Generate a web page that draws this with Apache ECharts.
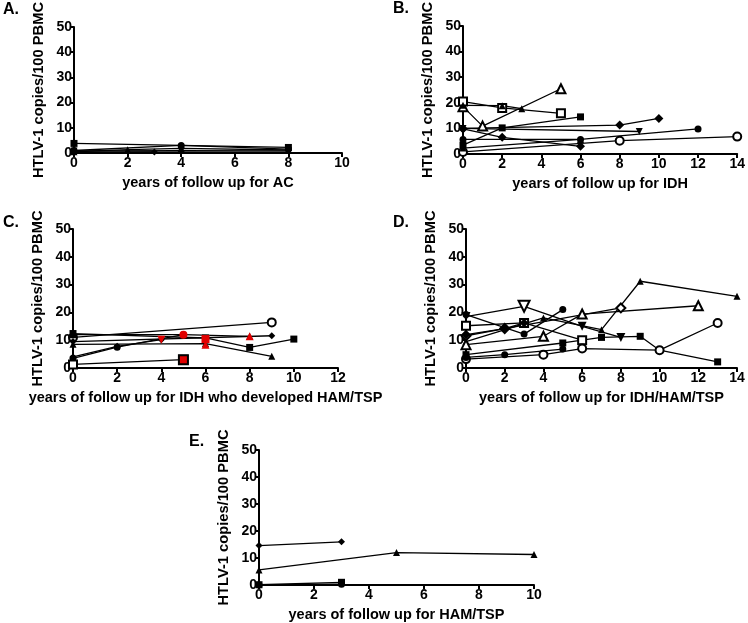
<!DOCTYPE html>
<html><head><meta charset="utf-8">
<script src="https://cdn.jsdelivr.net/npm/echarts@6/dist/echarts.min.js"></script>
<style>html,body{margin:0;padding:0;background:#fff}#c{width:748px;height:623px}</style>
</head><body><div id="c"></div>
<script>
// ---------- data ----------
const yTicks = [0, 10, 20, 30, 40, 50];
const panelLabels = ['A.', 'B.', 'C.', 'D.', 'E.'];
const yTitle = 'HTLV-1 copies/100 PBMC';
const xTitles = ['years of follow up for AC', 'years of follow up for IDH',
  'years of follow up for IDH who developed HAM/TSP', 'years of follow up for IDH/HAM/TSP',
  'years of follow up for HAM/TSP'];
const xMax = [10, 14, 12, 14, 10];

// Panel A (AC)
const A_square = [[0, 3.8], [8, 2.2]];
const A_circle = [[0, 1.0], [4, 3.0], [8, 1.5]];
const A_triangle = [[0, 0.5], [2, 1.3], [4, 1.8], [8, 1.2]];
const A_diamond = [[0, 0.2], [3, 0.4]];
const A_invTri = [[0, 0.8], [4, 0.9], [8, 0.8]];

// Panel B (IDH)
const B_openTri = [[0, 18.5], [1, 10.9], [5, 25.5]];
const B_openSq = [[0, 20.5], [2, 18], [5, 15.9]];
const B_tri = [[0, 19], [2, 18.9], [3, 17.7]];
const B_sq = [[0, 3.5], [2, 10.2], [6, 14.5]];
const B_invTri = [[0, 10], [9, 8.8]];
const B_diamond = [[0, 9.8], [2, 6.5], [6, 3]];
const B_circle = [[0, 5.7], [6, 5.7], [12, 9.8]];
const B_diamond2 = [[0, 10], [8, 11.3], [10, 13.9]];
const B_openCircle = [[0, 0.8], [8, 5.2], [14, 6.8]];
const B_tri2 = [[0, 2.3], [6, 5.7]];

// Panel C (IDH -> HAM/TSP)
const C_openCircle = [[0, 11], [9, 16.4]];
const C_diamond = [[0, 9.5], [9, 11.6]];
const C_tri = [[0, 12], [5, 12], [8, 11.4]];
const C_sq = [[0, 12.4], [6, 10.8], [8, 7.4], [10, 10.4]];
const C_tri2 = [[0, 8.5], [6, 8.8], [9, 4.2]];
const C_diamond2 = [[0, 4], [2, 7.8], [4, 10.2]];
const C_circle = [[0, 3.5], [2, 7.5], [5, 12]];
const C_openSq = [[0, 1.3], [5, 3]];
const C_redCircle = [[5, 12]];
const C_redInvTri = [[4, 10.2]];
const C_redSq = [[6, 10.4]];
const C_redSqOutlined = [[5, 3]];
const C_redTri = [[6, 8.4], [8, 11.4]];

// Panel D (IDH/HAM/TSP)
const D_tri = [[0, 9.5], [4, 18], [7, 13.8], [9, 31.2], [14, 25.8]];
const D_invTri = [[0, 18.5], [3, 22.2], [6, 15], [8, 11]];
const D_openInvTriPts = [[3, 22.2]];
const D_circle = [[0, 19.2], [3, 12.2], [5, 21]];
const D_openDiamond = [[0, 11.6], [2, 14.2], [8, 21.6]];
const D_openTri = [[0, 8.4], [4, 11.4], [6, 19.4], [12, 22.4]];
const D_openSq = [[0, 15.2], [3, 16.2], [6, 10]];
const D_sq = [[0, 4.8], [5, 9], [7, 11], [9, 11.4], [10, 6.4], [13, 2.2]];
const D_openCircle = [[0, 3.2], [4, 4.8], [6, 7], [10, 6.4], [13, 16.2]];
const D_circle2 = [[0, 3.8], [2, 4.8], [5, 6.8]];
const D_diamond = [[0, 12], [2, 14.2], [3, 16.2]];

// Panel E (HAM/TSP)
const E_diamond = [[0, 14.6], [3, 16]];
const E_tri = [[0, 5.6], [5, 12], [10, 11.3]];
const E_sq = [[0, 0.1], [3, 1]];
const E_circle = [[0, 0], [3, 0.3]];

// ---------- chart ----------
const FONT = '"Liberation Sans", Arial, sans-serif';
const grids = [
  {left: 74, top: 14, width: 268, height: 139},
  {left: 463, top: 14, width: 275, height: 140},
  {left: 73, top: 229, width: 265, height: 139},
  {left: 466, top: 229, width: 271, height: 139},
  {left: 259, top: 450, width: 275, height: 139}
];
const labelPos = [[3, 2], [393, 1], [3, 215], [393, 215], [189, 434]];

const xAxes = grids.map((g, i) => ({
  gridIndex: i, type: 'value', min: 0, max: xMax[i], interval: 2,
  name: xTitles[i], nameLocation: 'middle', nameGap: 22,
  nameTextStyle: {fontFamily: FONT, fontWeight: 'bold', fontSize: 14.5, color: '#000'},
  axisLine: {show: true, onZero: false, lineStyle: {color: '#000', width: 2}},
  axisTick: {show: true, length: 4, lineStyle: {color: '#000', width: 2}},
  axisLabel: {fontFamily: FONT, fontWeight: 'bold', fontSize: 14, color: '#000', margin: 3},
  splitLine: {show: false}
}));
const yAxes = grids.map((g, i) => ({
  gridIndex: i, type: 'value', min: yTicks[0], max: yTicks[yTicks.length - 1], interval: 10,
  name: yTitle, nameLocation: 'middle', nameGap: 28,
  nameTextStyle: {fontFamily: FONT, fontWeight: 'bold', fontSize: 14.7, color: '#000'},
  axisLine: {show: true, lineStyle: {color: '#000', width: 2}},
  axisTick: {show: true, length: 4, lineStyle: {color: '#000', width: 2}},
  axisLabel: {fontFamily: FONT, fontWeight: 'bold', fontSize: 14, color: '#000', margin: 2},
  splitLine: {show: false}
}));

const INV = 'path://M0,0 L10,0 L5,9 Z';
function line(gi, data, symbol, size) {
  const empty = symbol.startsWith('empty');
  return {
    type: 'line', xAxisIndex: gi, yAxisIndex: gi, data: data,
    symbol: symbol, symbolSize: size || 7, showSymbol: true,
    lineStyle: {color: '#000', width: 1.3}, animation: false,
    itemStyle: {color: '#000', borderColor: '#000', borderWidth: empty ? 2 : 0},
    z: 2
  };
}
function marks(gi, data, symbol, fill, border, size) {
  return {
    type: 'scatter', xAxisIndex: gi, yAxisIndex: gi, data: data, symbol: symbol, symbolSize: size || 8,
    itemStyle: {color: fill, borderColor: border || fill, borderWidth: border ? 2 : 0, opacity: 1},
    animation: false, z: 5
  };
}

const series = [
  line(0, A_square, 'rect'), line(0, A_circle, 'circle'), line(0, A_triangle, 'triangle'),
  line(0, A_diamond, 'diamond'), line(0, A_invTri, INV),

  line(1, B_openTri, 'emptyTriangle', 9), line(1, B_openSq, 'emptyRect', 8),
  line(1, B_tri, 'triangle'), line(1, B_sq, 'rect'), line(1, B_invTri, INV),
  line(1, B_diamond, 'diamond', 9), line(1, B_circle, 'circle'),
  line(1, B_diamond2, 'diamond', 9), line(1, B_openCircle, 'emptyCircle', 8),
  line(1, B_tri2, 'triangle'),

  line(2, C_openCircle, 'emptyCircle', 8), line(2, C_diamond, 'diamond'),
  line(2, C_tri, 'triangle'), line(2, C_sq, 'rect'), line(2, C_tri2, 'triangle'),
  line(2, C_diamond2, 'diamond'), line(2, C_circle, 'circle'), line(2, C_openSq, 'emptyRect', 8),
  marks(2, C_redCircle, 'circle', '#e00000'), marks(2, C_redInvTri, INV, '#e00000'),
  marks(2, C_redTri, 'triangle', '#e00000'), marks(2, C_redSq, 'rect', '#e00000'),
  marks(2, C_redSqOutlined, 'rect', '#e00000', '#000', 9),

  line(3, D_tri, 'triangle'), line(3, D_invTri, INV, 9),
  line(3, D_circle, 'circle'), line(3, D_openDiamond, 'emptyDiamond', 9),
  line(3, D_openTri, 'emptyTriangle', 9), line(3, D_openSq, 'emptyRect', 8),
  line(3, D_sq, 'rect'), line(3, D_openCircle, 'emptyCircle', 8),
  line(3, D_circle2, 'circle'), line(3, D_diamond, 'diamond', 9),
  marks(3, D_openInvTriPts, INV, '#ffffff', '#000000', 11),

  line(4, E_diamond, 'diamond'), line(4, E_tri, 'triangle'), line(4, E_sq, 'rect'), line(4, E_circle, 'circle')
];

const graphic = panelLabels.map((t, i) => ({
  type: 'text', left: labelPos[i][0], top: labelPos[i][1],
  style: {text: t, font: 'bold 16px ' + FONT, fill: '#000'}
}));

const chart = echarts.init(document.getElementById('c'), null, {renderer: 'canvas'});
chart.setOption({
  animation: false, grid: grids, xAxis: xAxes, yAxis: yAxes, series: series, graphic: graphic
});
</script></body></html>
